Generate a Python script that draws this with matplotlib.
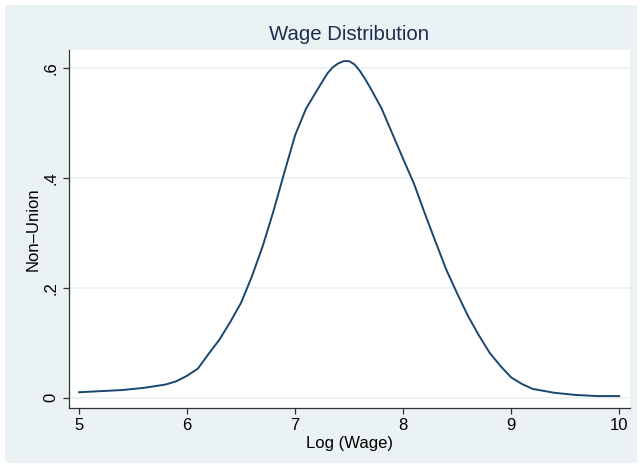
import matplotlib
matplotlib.use("Agg")
import matplotlib.pyplot as plt
from matplotlib.patches import Rectangle

plt.rcParams['font.family'] = ['Liberation Sans', 'DejaVu Sans']

# kernel density
log_wage = [5.0, 5.2, 5.4, 5.6, 5.8, 5.9, 6.0, 6.1, 6.2, 6.3, 6.4, 6.5, 6.6, 6.7,
            6.8, 6.9, 7.0, 7.1, 7.2, 7.3, 7.35, 7.4, 7.45, 7.5, 7.55, 7.6, 7.65,
            7.7, 7.8, 7.9, 8.0, 8.1, 8.2, 8.3, 8.4, 8.5, 8.6, 8.7, 8.8, 8.9, 9.0,
            9.1, 9.2, 9.4, 9.6, 9.8, 10.0]
density = [0.010, 0.012, 0.014, 0.018, 0.024, 0.030, 0.040, 0.053, 0.080, 0.106,
           0.138, 0.173, 0.221, 0.276, 0.340, 0.410, 0.478, 0.526, 0.559, 0.591,
           0.602, 0.609, 0.613, 0.613, 0.607, 0.595, 0.580, 0.563, 0.527, 0.481,
           0.435, 0.390, 0.336, 0.284, 0.233, 0.190, 0.149, 0.114, 0.082, 0.058,
           0.037, 0.025, 0.016, 0.009, 0.005, 0.003, 0.003]
xticks = [5, 6, 7, 8, 9, 10]
yticks = [0, 0.2, 0.4, 0.6]
ytick_labels = ['0', '.2', '.4', '.6']

bg = '#EAF2F3'
navy = '#1A476F'

fig = plt.figure(figsize=(6.42, 4.68), dpi=100)
fig.patches.append(Rectangle((5 / 642, 5 / 468), 632 / 642, 458 / 468,
                             transform=fig.transFigure, facecolor=bg,
                             edgecolor='none', zorder=-10))

ax = fig.add_axes([69 / 642, 1 - 408 / 468, 561 / 642, 358 / 468])
ax.set_zorder(5)
ax.set_facecolor('white')
ax.plot(log_wage, density, color=navy, lw=1.4, zorder=3)

ax.set_xlim(4.907, 10.10)
ax.set_ylim(-0.0187, 0.6333)
ax.set_xticks(xticks)
ax.set_yticks(yticks)
ax.set_yticklabels(ytick_labels, rotation=90, va='center')
ax.yaxis.grid(True, color=bg, lw=1.3)
ax.set_axisbelow(True)

for s in ['top', 'right']:
    ax.spines[s].set_visible(False)
for s in ['left', 'bottom']:
    ax.spines[s].set_color('#333333')
    ax.spines[s].set_linewidth(0.9)

ax.tick_params(axis='both', direction='out', length=4.5, width=0.9,
               color='#333333', labelsize=12, labelcolor='black', pad=3)

ax.set_xlabel('Log (Wage)', fontsize=12, labelpad=2)
ax.set_ylabel('Non\u2013Union', fontsize=12, labelpad=2)
ax.set_title('Wage Distribution', fontsize=14.7, color='#1E2D4F', pad=7)

fig.savefig('out.png', dpi=100, facecolor='white')
